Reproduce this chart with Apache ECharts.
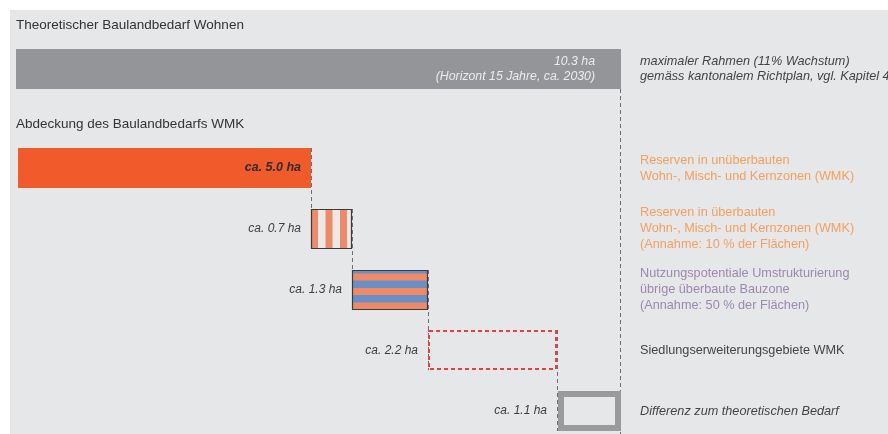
<!DOCTYPE html>
<html><head><meta charset="utf-8">
<script src="https://cdn.jsdelivr.net/npm/echarts@6/dist/echarts.min.js"></script>
<style>html,body{margin:0;padding:0;background:#fff}#c{width:888px;height:434px}</style>
</head><body><div id="c"></div><script>
// ---- data ----
const titles = ['Theoretischer Baulandbedarf Wohnen', 'Abdeckung des Baulandbedarfs WMK'];
const totalCategory = ['Theoretischer Baulandbedarf'];
const totalValue = [10.3];
const totalLabel = ['10.3 ha', '(Horizont 15 Jahre, ca. 2030)'];
const totalNote = ['maximaler Rahmen (11% Wachstum)', 'gemäss kantonalem Richtplan, vgl. Kapitel 4'];
const categories = ['Reserven unüberbaut', 'Reserven überbaut', 'Umstrukturierung', 'Siedlungserweiterung', 'Differenz'];
const values = [5.0, 0.7, 1.3, 2.2, 1.1];
const valueLabels = ['ca. 5.0 ha', 'ca. 0.7 ha', 'ca. 1.3 ha', 'ca. 2.2 ha', 'ca. 1.1 ha'];
const notes = [
  ['Reserven in unüberbauten', 'Wohn-, Misch- und Kernzonen (WMK)'],
  ['Reserven in überbauten', 'Wohn-, Misch- und Kernzonen (WMK)', '(Annahme: 10 % der Flächen)'],
  ['Nutzungspotentiale Umstrukturierung', 'übrige überbaute Bauzone', '(Annahme: 50 % der Flächen)'],
  ['Siedlungserweiterungsgebiete WMK'],
  ['Differenz zum theoretischen Bedarf']
];

// ---- styles ----
const FONT = '"Liberation Sans", Arial, sans-serif';
const ORANGE = '#f15a2b', SALMON = '#ef8a68', BLUE = '#6a8fc5', LIGHT = '#ebe9e7';
const RED = '#e8413c', GRAY = '#9a9b9d', BARGRAY = '#939598', BORDER = '#3a3a3a';
const DASH = '#6d6e71', TXT = '#3d3d3d';
const noteColors = ['#f4a05f', '#f4a05f', '#9c88b0', '#444', '#444'];
const noteItalic = [false, false, false, false, true];
const BAR_H = 40;

// cumulative starts
const starts = [];
values.reduce((acc, v, i) => { starts[i] = acc; return acc + v; }, 0);
const rowData = values.map((v, i) => [i, starts[i], v]);

function rect(x, y, w, h, style) { return { type: 'rect', shape: { x, y, width: w, height: h }, style }; }
function vline(x, y1, y2) {
  return { type: 'line', shape: { x1: x + 0.5, y1, x2: x + 0.5, y2 }, style: { stroke: DASH, lineWidth: 1, lineDash: [4, 3] } };
}

function renderTotal(params, api) {
  const a = api.coord([0, 0]), b = api.coord([api.value(1), 0]);
  const x0 = Math.round(a[0]) - 2, x1 = Math.round(b[0]), yc = a[1], y0 = Math.round(yc - BAR_H / 2);
  return {
    type: 'group', children: [
      rect(x0, y0, x1 - x0, BAR_H, { fill: BARGRAY }),
      vline(x1 - 1, y0 + BAR_H, api.getHeight()),
      { type: 'text', style: { x: x1 - 26, y: yc, text: totalLabel.join('\n'), align: 'right', verticalAlign: 'middle',
          lineHeight: 15, fill: '#ececec', font: 'italic 12.3px ' + FONT } },
      { type: 'text', style: { x: x1 + 19, y: yc, text: totalNote.join('\n'), align: 'left', verticalAlign: 'middle',
          lineHeight: 15, fill: '#444', font: 'italic 12.7px ' + FONT } }
    ]
  };
}

function renderRow(params, api) {
  const i = params.dataIndex;
  const start = api.value(1), val = api.value(2);
  const a = api.coord([start, i]), b = api.coord([start + val, i]);
  const end = api.coord([totalValue[0], i])[0];
  const nextY = api.coord([0, Math.min(i + 1, values.length - 1)])[1];
  const h = BAR_H;
  const x0 = Math.round(a[0]), x1 = Math.round(b[0]), yc = a[1], y0 = Math.round(yc - h / 2);
  const w = x1 - x0;
  const kids = [];
  if (i === 0) {
    kids.push(rect(x0, y0, w, h, { fill: ORANGE }));
  } else if (i === 1) {
    kids.push(rect(x0, y0, w, h, { fill: LIGHT }));
    for (let s = 0; s < w; s += 14.5) kids.push(rect(x0 + s, y0, Math.min(7, w - s), h, { fill: SALMON }));
    kids.push(rect(x0 + 0.5, y0 + 0.5, w - 1, h - 1, { fill: 'none', stroke: BORDER, lineWidth: 1.2 }));
  } else if (i === 2) {
    kids.push(rect(x0, y0, w, h, { fill: SALMON }));
    for (let s = -4; s < h; s += 14.5) {
      const t = Math.max(s, 0), e = Math.min(s + 7.5, h);
      if (e > t) kids.push(rect(x0, y0 + t, w, e - t, { fill: BLUE }));
    }
    kids.push(rect(x0 + 0.5, y0 + 0.5, w - 1, h - 1, { fill: 'none', stroke: BORDER, lineWidth: 1.2 }));
  } else if (i === 3) {
    kids.push(rect(x0 + 1, y0 + 1, w - 2, h - 2, { fill: 'none', stroke: RED, lineWidth: 2, lineDash: [4, 3] }));
  } else {
    kids.push(rect(x0 + 4, y0 + 3, w - 7, h - 6, { fill: 'none', stroke: GRAY, lineWidth: 6 }));
  }
  // connector to next bar
  if (i < values.length - 1) kids.push(vline(x1, y0, nextY + h / 2));
  // value label
  if (i === 0) {
    kids.push({ type: 'text', style: { x: x1 - 10, y: yc, text: valueLabels[i], align: 'right', verticalAlign: 'middle',
      fill: '#2e2e2e', font: 'italic bold 12.5px ' + FONT } });
  } else {
    kids.push({ type: 'text', style: { x: x0 - 10, y: yc, text: valueLabels[i], align: 'right', verticalAlign: 'middle',
      fill: TXT, font: 'italic 12px ' + FONT } });
  }
  // note
  kids.push({ type: 'text', style: { x: end + 19, y: yc, text: notes[i].join('\n'), align: 'left', verticalAlign: 'middle',
    lineHeight: 16, fill: noteColors[i], font: (noteItalic[i] ? 'italic ' : '') + '12.7px ' + FONT } });
  return { type: 'group', children: kids };
}

const chart = echarts.init(document.getElementById('c'), null, { renderer: 'canvas' });
chart.setOption({
  animation: false,
  backgroundColor: '#ffffff',
  graphic: [
    { type: 'rect', z: -10, shape: { x: 10, y: 10, width: 878, height: 424 }, style: { fill: '#e6e7e8' } },
    { type: 'text', style: { x: 16, y: 25, text: titles[0], fill: '#333', font: '13.5px ' + FONT, verticalAlign: 'middle' } },
    { type: 'text', style: { x: 16, y: 124, text: titles[1], fill: '#333', font: '13.5px ' + FONT, verticalAlign: 'middle' } }
  ],
  grid: [
    { left: 18, top: 49, width: 603, height: 40 },
    { left: 18, top: 168, width: 603, height: 243 }
  ],
  xAxis: [
    { type: 'value', gridIndex: 0, min: 0, max: totalValue[0], show: false },
    { type: 'value', gridIndex: 1, min: 0, max: totalValue[0], show: false }
  ],
  yAxis: [
    { type: 'category', gridIndex: 0, data: totalCategory, show: false },
    { type: 'category', gridIndex: 1, data: categories, inverse: true, boundaryGap: false, show: false }
  ],
  series: [
    { type: 'custom', xAxisIndex: 0, yAxisIndex: 0, renderItem: renderTotal,
      data: totalValue.map((v, i) => [i, v]), encode: { x: 1, y: 0 } },
    { type: 'custom', xAxisIndex: 1, yAxisIndex: 1, renderItem: renderRow,
      data: rowData, encode: { x: [1, 2], y: 0 } }
  ]
});
</script></body></html>
